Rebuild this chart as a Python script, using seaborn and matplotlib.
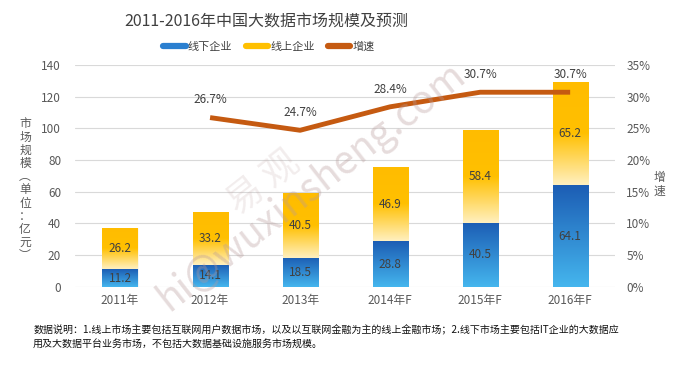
import numpy as np
import pandas as pd
import matplotlib
matplotlib.use("Agg")
import matplotlib.pyplot as plt
from matplotlib.colors import LinearSegmentedColormap
from matplotlib.lines import Line2D
import seaborn as sns

# data
years = ["2011年", "2012年", "2013年", "2014年F", "2015年F", "2016年F"]
offline = [11.2, 14.1, 18.5, 28.8, 40.5, 64.1]
online = [26.2, 33.2, 40.5, 46.9, 58.4, 65.2]
growth_years = ["2012年", "2013年", "2014年F", "2015年F", "2016年F"]
growth = [26.7, 24.7, 28.4, 30.7, 30.7]

sns.set_style("white")
plt.rcParams['font.family'] = ['Noto Sans CJK SC', 'DejaVu Sans']

df = pd.DataFrame({"year": years, "offline": offline, "online": online})
df["total"] = df["offline"] + df["online"]

fig = plt.figure(figsize=(6.76, 3.65), dpi=100)
ax = fig.add_axes([0.111, 0.214, 0.799, 0.608])

sns.barplot(data=df, x="year", y="total", color="#ffc000", width=0.39, ax=ax, zorder=2)
n = len(years)
sns.barplot(data=df, x="year", y="offline", color="#2a7fd0", width=0.39, ax=ax, zorder=3)

# gradient fill clipped to each bar
blue_cm = LinearSegmentedColormap.from_list("b", ["#45b6ee", "#1c5db4"])
yel_cm = LinearSegmentedColormap.from_list("y", ["#fff0c0", "#ffc000", "#ffbc00"])
grad = np.linspace(0, 1, 256).reshape(-1, 1)
for i, p in enumerate(ax.patches):
    x0, w = p.get_x(), p.get_width()
    h = p.get_height()
    if i < n:
        cm, y0, y1, z = yel_cm, offline[i], h, 2.5
    else:
        cm, y0, y1, z = blue_cm, 0, h, 3.5
    im = ax.imshow(grad, cmap=cm, origin="lower", aspect="auto",
                   extent=[x0, x0 + w, y0, y1], zorder=z)
    im.set_clip_path(p)
    p.set_edgecolor("white")
    p.set_linewidth(0.6)

for i in range(n):
    ax.text(i, offline[i] / 2, f"{offline[i]}", ha="center", va="center",
            fontsize=8.5, color="#404040", zorder=6)
    ax.text(i, offline[i] + online[i] / 2, f"{online[i]}", ha="center", va="center",
            fontsize=8.5, color="#404040", zorder=6)

ax.set_xlim(-0.5, n - 0.5)
ax.set_ylim(0, 140)
ax.set_yticks(range(0, 141, 20))
ax.yaxis.grid(True, color="#d9d9d9", linewidth=0.8)
ax.set_axisbelow(True)
for s in ax.spines.values():
    s.set_visible(False)
ax.tick_params(axis="both", length=0, labelsize=8.5, labelcolor="#595959")
ax.tick_params(axis="y", pad=10)
ax.tick_params(axis="x", pad=5)
ax.set_xlabel("")
ax.set_ylabel("")

ax2 = ax.twinx()
gx = [years.index(y) for y in growth_years]
sns.lineplot(x=gx, y=growth, ax=ax2, color="#c55a11", linewidth=3.5,
             solid_joinstyle="round", solid_capstyle="butt", zorder=5)
for xi, g in zip(gx, growth):
    ax2.annotate(f"{g}%", (xi, g), xytext=(0, 8), textcoords="offset points",
                 ha="center", va="bottom", fontsize=8.5, color="#404040")
ax2.set_ylim(0, 35)
ax2.set_yticks(range(0, 36, 5))
ax2.set_yticklabels([f"{t}%" for t in range(0, 36, 5)])
for s in ax2.spines.values():
    s.set_visible(False)
ax2.tick_params(axis="y", length=0, labelsize=8.5, labelcolor="#595959", pad=8)
ax.set_xlim(-0.5, n - 0.5)

fig.text(0.394, 0.94, "2011-2016年中国大数据市场规模及预测", ha="center", va="center",
         fontsize=11.5, color="#404040")

handles = [Line2D([], [], color="#2a7fd0", lw=4.5),
           Line2D([], [], color="#ffc000", lw=4.5),
           Line2D([], [], color="#c55a11", lw=4.5)]
fig.legend(handles, ["线下企业", "线上企业", "增速"], loc="center",
           bbox_to_anchor=(0.398, 0.871), ncol=3, frameon=False, fontsize=8,
           handlelength=2.0, handletextpad=0.2, columnspacing=1.2,
           labelcolor="#404040")

ylab = "市场规模︵单位：亿元︶"
fig.text(0.037, 0.48, "\n".join(ylab), ha="center", va="center", fontsize=8.5,
         color="#595959", linespacing=1.02)
fig.text(0.976, 0.495, "增\n速", ha="center", va="center", fontsize=8.5,
         color="#595959", linespacing=1.0)

fig.text(0.049, 0.077,
         "数据说明：1.线上市场主要包括互联网用户数据市场，以及以互联网金融为主的线上金融市场；2.线下市场主要包括IT企业的大数据应\n"
         "用及大数据平台业务市场，不包括大数据基础设施服务市场规模。",
         ha="left", va="center", fontsize=7.2, color="#111111", linespacing=1.45)

# watermark
fig.text(0.46, 0.49, "hi@wuxinsheng.com", rotation=38, ha="center", va="center",
         fontsize=28, color="#b89a9a", alpha=0.35, zorder=10)
fig.text(0.39, 0.5, "易 观", rotation=38, ha="center", va="center",
         fontsize=26, color="#b89a9a", alpha=0.18, zorder=10)

fig.savefig("out.png", dpi=100)
